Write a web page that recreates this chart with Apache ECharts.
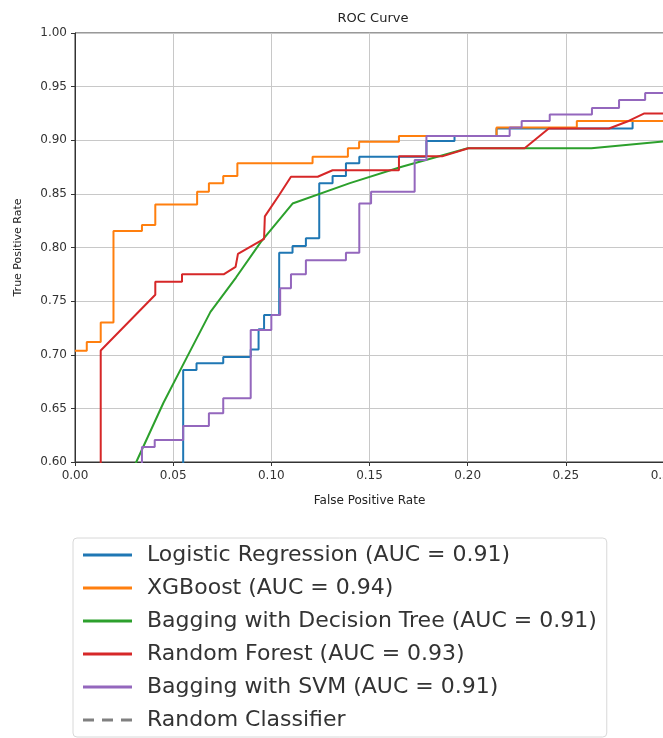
<!DOCTYPE html>
<html>
<head>
<meta charset="utf-8">
<script src="https://cdn.jsdelivr.net/npm/echarts@6/dist/echarts.min.js"></script>
<style>
  html, body { margin: 0; padding: 0; background: #fff; }
  #chart { width: 663px; height: 738px; }
</style>
</head>
<body>
<div id="chart"></div>
<script>
// ROC points [fpr, tpr]
const lrPoints = [[0.0551,0.55],[0.0551,0.6858],[0.0619,0.6858],[0.0619,0.692],[0.0755,0.692],[0.0755,0.698],
  [0.0895,0.698],[0.0895,0.705],[0.0935,0.705],[0.0935,0.7237],[0.0963,0.7237],[0.0963,0.737],[0.104,0.737],
  [0.104,0.795],[0.1108,0.795],[0.1108,0.8014],[0.1176,0.8014],[0.1176,0.8086],[0.1244,0.8086],[0.1244,0.860],
  [0.1312,0.860],[0.1312,0.8667],[0.138,0.8667],[0.138,0.8785],[0.1448,0.8785],[0.1448,0.8847],[0.179,0.8847],
  [0.179,0.8993],[0.1933,0.8993],[0.1933,0.904],[0.2147,0.904],[0.2147,0.911],[0.284,0.911],[0.284,0.918],[0.30,0.918]];
const xgbPoints = [[0,0.7038],[0.006,0.7038],[0.006,0.712],[0.0131,0.712],[0.0131,0.730],[0.0196,0.730],
  [0.0196,0.8154],[0.0341,0.8154],[0.0341,0.821],[0.0409,0.821],[0.0409,0.840],[0.0622,0.840],[0.0622,0.852],
  [0.0682,0.852],[0.0682,0.860],[0.0755,0.860],[0.0755,0.8667],[0.0827,0.8667],[0.0827,0.8785],[0.121,0.8785],
  [0.121,0.8847],[0.139,0.8847],[0.139,0.8925],[0.1447,0.8925],[0.1447,0.8987],[0.165,0.8987],[0.165,0.904],
  [0.2147,0.904],[0.2147,0.912],[0.2556,0.912],[0.2556,0.918],[0.30,0.918]];
const bdtPoints = [[0.025,0.57],[0.0312,0.60],[0.045,0.655],[0.0571,0.698],[0.069,0.740],[0.082,0.772],
  [0.0946,0.805],[0.1108,0.841],[0.140,0.860],[0.166,0.875],[0.200,0.8925],[0.263,0.8925],[0.30,0.899]];
const rfPoints = [[0.0131,0.55],[0.0131,0.704],[0.0409,0.756],[0.0409,0.768],[0.0545,0.768],[0.0545,0.775],
  [0.0757,0.775],[0.0818,0.782],[0.083,0.794],[0.0963,0.808],[0.0967,0.829],[0.104,0.849],[0.110,0.866],
  [0.1236,0.866],[0.1312,0.872],[0.165,0.872],[0.165,0.885],[0.187,0.885],[0.2004,0.8925],[0.229,0.8925],
  [0.2413,0.911],[0.272,0.911],[0.282,0.918],[0.290,0.925],[0.30,0.925]];
const svmPoints = [[0.0341,0.55],[0.0341,0.614],[0.0406,0.614],[0.0406,0.6205],[0.0551,0.6205],[0.0551,0.6336],
  [0.0682,0.6336],[0.0682,0.6454],[0.0755,0.6454],[0.0755,0.6594],[0.0895,0.6594],[0.0895,0.723],[0.100,0.723],
  [0.100,0.737],[0.1045,0.737],[0.1045,0.762],[0.110,0.762],[0.110,0.775],[0.1176,0.775],[0.1176,0.788],
  [0.138,0.788],[0.138,0.795],[0.1448,0.795],[0.1448,0.841],[0.1508,0.841],[0.1508,0.852],[0.173,0.852],
  [0.173,0.8816],[0.179,0.8816],[0.179,0.904],[0.2214,0.904],[0.2214,0.912],[0.2275,0.912],[0.2275,0.918],
  [0.2418,0.918],[0.2418,0.924],[0.2633,0.924],[0.2633,0.930],[0.2771,0.930],[0.2771,0.9375],[0.2904,0.9375],
  [0.2904,0.944],[0.30,0.944]];
const randomPoints = [[0,0],[1,1]];

const seriesNames = ['Logistic Regression (AUC = 0.91)', 'XGBoost (AUC = 0.94)',
  'Bagging with Decision Tree (AUC = 0.91)', 'Random Forest (AUC = 0.93)',
  'Bagging with SVM (AUC = 0.91)', 'Random Classifier'];
const xTicks = [0, 0.05, 0.10, 0.15, 0.20, 0.25, 0.30];
const yTicks = [0.60, 0.65, 0.70, 0.75, 0.80, 0.85, 0.90, 0.95, 1.00];

const colors = ['#1f77b4', '#ff7f0e', '#2ca02c', '#d62728', '#9467bd', '#808080'];
const allPoints = [lrPoints, xgbPoints, bdtPoints, rfPoints, svmPoints, randomPoints];

const chart = echarts.init(document.getElementById('chart'));
const font = 'DejaVu Sans';
// legend handles: a line plus an invisible dot so the text sits further right
const solidIcon = 'path://M0,0h49v3h-49z M59,0h0.01v0.01h-0.01z';
const dashIcon = 'path://M0,0h11v3h-11z M19,0h11v3h-11z M38,0h11v3h-11z M59,0h0.01v0.01h-0.01z';

const options = {
  animation: false,
  color: colors,
  textStyle: { fontFamily: font },
  title: {
    text: 'ROC Curve',
    left: 368,
    textAlign: 'center',
    top: 7,
    textStyle: { fontSize: 13, fontWeight: 'normal', color: '#222', fontFamily: font }
  },
  grid: {
    left: 75, right: -1, top: 33, bottom: 276,
    outerBoundsMode: 'none', containLabel: false,
    show: true, borderColor: '#333', borderWidth: 1
  },
  xAxis: {
    type: 'value',
    min: xTicks[0], max: xTicks[xTicks.length - 1], interval: 0.05,
    name: 'False Positive Rate', nameLocation: 'middle', nameGap: 33,
    nameTextStyle: { fontSize: 12, color: '#222' },
    axisLine: { lineStyle: { color: '#333' } },
    axisTick: { show: true, length: 4, lineStyle: { color: '#333' } },
    axisLabel: { fontSize: 12, color: '#333', margin: 8, showMaxLabel: true,
      formatter: v => v.toFixed(2) },
    splitLine: { show: true, lineStyle: { color: '#c8c8c8', width: 1 } }
  },
  yAxis: {
    type: 'value',
    min: yTicks[0], max: yTicks[yTicks.length - 1], interval: 0.05,
    name: 'True Positive Rate', nameLocation: 'middle', nameGap: 51, nameRotate: 90,
    nameTextStyle: { fontSize: 11, color: '#222' },
    axisLine: { show: true, lineStyle: { color: '#333' } },
    axisTick: { show: true, length: 4, lineStyle: { color: '#333' } },
    axisLabel: { fontSize: 12, color: '#333', margin: 8,
      formatter: v => v.toFixed(2) },
    splitLine: { show: true, lineStyle: { color: '#c8c8c8', width: 1 } }
  },
  legend: {
    orient: 'vertical',
    left: 73, top: 538,
    padding: [6, 10, 6, 10],
    itemWidth: 59, itemHeight: 3, itemGap: 11,
    borderColor: '#d8d8d8', borderWidth: 1, borderRadius: 4,
    textStyle: { fontSize: 22, color: '#333', fontFamily: font, lineHeight: 22 },
    data: seriesNames.map((n, i) => ({ name: n, icon: i === 5 ? dashIcon : solidIcon }))
  },
  series: allPoints.map((pts, i) => ({
    name: seriesNames[i],
    type: 'line',
    data: pts,
    symbol: 'none',
    clip: true,
    lineStyle: { width: 2, color: colors[i], type: i === 5 ? 'dashed' : 'solid' }
  }))
};

chart.setOption(options);
</script>
</body>
</html>
